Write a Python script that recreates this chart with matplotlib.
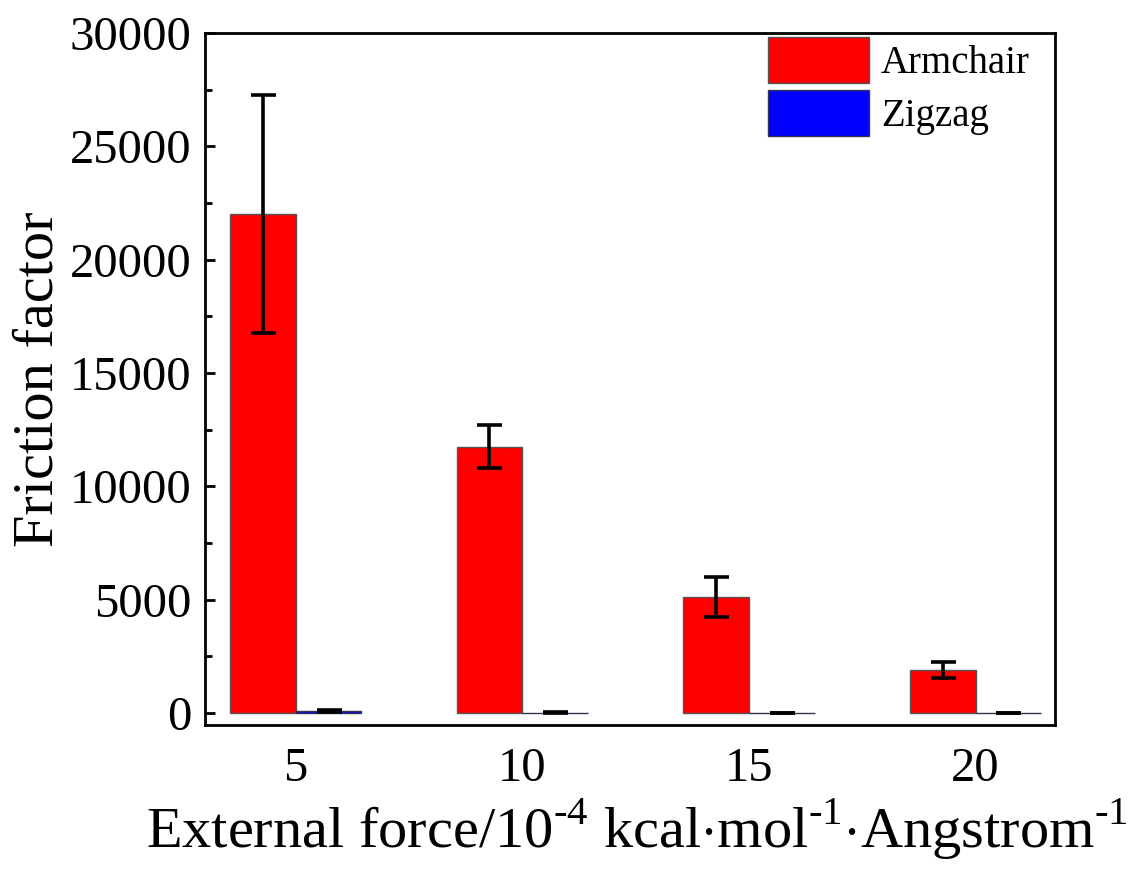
import numpy as np
from matplotlib import pyplot as plt
from matplotlib.ticker import MultipleLocator

plt.rcParams["font.family"] = ["Liberation Serif", "DejaVu Serif"]
plt.rcParams["mathtext.fontset"] = "custom"
plt.rcParams["mathtext.rm"] = "Liberation Serif"

forces = ["5", "10", "15", "20"]
armchair = [22000, 11750, 5120, 1900]
armchair_err = [5250, 950, 880, 340]
zigzag = [110, 25, 8, 5]
zigzag_err = [40, 20, 10, 8]

fig = plt.figure(figsize=(11.29, 8.8), dpi=100)
ax = fig.add_axes([0.1816, 0.176, 0.7528, 0.7865])

x = np.arange(1, len(forces) + 1)
w = 0.29
err_kw = dict(ecolor="black", elinewidth=2.6, capthick=2.6)
ax.bar(x - w / 2, armchair, w, yerr=armchair_err, capsize=9, color="#ff0000",
       edgecolor="#555555", linewidth=1, label="Armchair", error_kw=err_kw)
ax.bar(x + w / 2, zigzag, w, yerr=zigzag_err, capsize=9, color="#0000ff",
       edgecolor="#333355", linewidth=1, label="Zigzag", error_kw=err_kw)

ax.set_xlim(0.6, 4.35)
ax.set_ylim(-530, 30000)
ax.set_xticks(x)
ax.set_xticklabels(forces)
ax.set_yticks(np.arange(0, 30001, 5000))
ax.yaxis.set_minor_locator(MultipleLocator(2500))
ax.tick_params(axis="y", which="major", direction="in", length=7, width=2,
               labelsize=35, pad=10)
ax.tick_params(axis="y", which="minor", direction="in", length=5, width=2)
ax.tick_params(axis="x", length=0, labelsize=35, pad=16)
for s in ax.spines.values():
    s.set_linewidth(2)

ax.set_ylabel("Friction factor", fontsize=42)
ax.yaxis.set_label_coords(-0.165, 0.5)
ax.set_xlabel(r"External force/10$^{\text{-}4}$ kcal$\cdot$mol$^{\text{-}1}$$\cdot$Angstrom$^{\text{-}1}$",
              fontsize=42)
ax.xaxis.set_label_coords(0.508, -0.103)

ax.legend(loc="upper right", bbox_to_anchor=(0.975, 1.0), frameon=False, fontsize=28,
          handlelength=2.6, handleheight=1.43, handletextpad=0.3, labelspacing=0.2,
          borderaxespad=0, borderpad=0.1)

fig.savefig("out.png", dpi=100)
